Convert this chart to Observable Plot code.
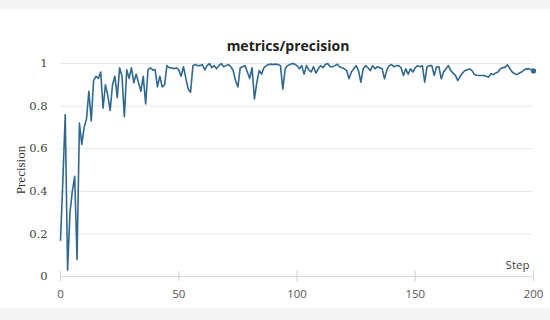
<!DOCTYPE html>
<html>
<head>
<meta charset="utf-8">
<script src="https://cdn.jsdelivr.net/npm/d3@7"></script>
<script src="https://cdn.jsdelivr.net/npm/@observablehq/plot@0.6"></script>
<style>
  html, body { margin: 0; padding: 0; }
  body { width: 550px; height: 320px; background: #f4f4f4; position: relative; overflow: hidden; }
  #panel { position: absolute; left: 0; top: 9px; width: 550px; height: 299px; background: #fff; }
  #title { position: absolute; left: 0; top: 37px; width: 576px; text-align: center;
           font: bold 14px "Open Sans", "Noto Sans", sans-serif; color: #222; line-height: 18px; z-index: 2; }
  #chart { position: absolute; left: 0; top: 0; z-index: 1; }
</style>
</head>
<body>
<div id="panel"></div>
<div id="title">metrics/precision</div>
<div id="chart"></div>
<script>
const steps = d3.range(0, 201);
const precision = [
  0.17, 0.45, 0.76, 0.03, 0.30, 0.40, 0.47, 0.08, 0.72, 0.62,
  0.70, 0.74, 0.87, 0.73, 0.92, 0.94, 0.93, 0.96, 0.79, 0.90,
  0.85, 0.78, 0.90, 0.94, 0.84, 0.98, 0.94, 0.75, 0.97, 0.93,
  0.98, 0.91, 0.95, 0.91, 0.87, 0.94, 0.81, 0.97, 0.98, 0.97,
  0.97, 0.89, 0.94, 0.89, 0.90, 0.99, 0.98, 0.98, 0.975, 0.98,
  0.97, 0.94, 0.985, 0.93, 0.88, 0.865, 0.99, 0.995, 0.99, 0.99,
  0.995, 0.97, 0.99, 1.0, 0.98, 0.99, 0.975, 0.99, 1.0, 0.985,
  0.99, 0.995, 0.985, 0.967, 0.92, 0.89, 0.98, 0.985, 0.99, 0.96,
  0.93, 0.98, 0.834, 0.91, 0.967, 0.95, 0.98, 0.99, 0.995, 0.997,
  0.995, 0.997, 0.995, 0.99, 0.88, 0.975, 0.99, 0.995, 1.0, 0.997,
  0.99, 0.975, 0.99, 0.95, 0.99, 0.97, 0.96, 0.985, 0.955, 0.975,
  0.99, 0.98, 0.995, 1.0, 0.985, 0.985, 0.99, 0.997, 0.985, 0.98,
  0.975, 0.967, 0.928, 0.96, 0.975, 0.99, 0.967, 0.912, 0.975, 0.99,
  0.98, 0.967, 0.99, 0.975, 0.985, 0.98, 0.975, 0.928, 0.97, 0.99,
  0.995, 0.985, 0.99, 0.99, 0.98, 0.944, 0.975, 0.95, 0.975, 0.96,
  0.98, 0.99, 0.985, 0.99, 0.912, 0.985, 0.99, 0.99, 0.944, 0.985,
  0.985, 0.928, 0.96, 0.975, 0.99, 0.967, 0.955, 0.944, 0.92, 0.94,
  0.955, 0.967, 0.97, 0.975, 0.967, 0.948, 0.945, 0.944, 0.944, 0.944,
  0.94, 0.936, 0.952, 0.948, 0.955, 0.96, 0.975, 0.98, 0.983, 0.994,
  0.975, 0.96, 0.952, 0.948, 0.955, 0.96, 0.97, 0.975, 0.975, 0.972,
  0.965
];
const xTicks = [0, 50, 100, 150, 200];
const yTicks = [0, 0.2, 0.4, 0.6, 0.8, 1];
const yTickLabels = ["0", "0.2", "0.4", "0.6", "0.8", "1"];
const xLabel = "Step";
const yLabel = "Precision";

const data = steps.map((s, i) => ({step: s, value: precision[i]}));
const last = data[data.length - 1];

const chart = Plot.plot({
  width: 550,
  height: 320,
  marginTop: 63,
  marginBottom: 44,
  marginLeft: 60,
  marginRight: 17,
  style: {background: "transparent", overflow: "visible"},
  x: {domain: [0, 200]},
  y: {domain: [0, 1]},
  marks: [
    Plot.gridY(yTicks.filter(d => d > 0), {stroke: "#e6e6e6", strokeOpacity: 1, strokeWidth: 1}),
    Plot.ruleY([0], {stroke: "#d9d9d9", strokeWidth: 1.2}),
    Plot.axisX(xTicks, {tickSize: 10, dy: -5, tickFormat: () => "", stroke: "#d0d0d0", label: null}),
    Plot.axisX(xTicks, {tickSize: 0, tickPadding: 13, fontSize: 11.5, fill: "#555",
      fontFamily: "'Open Sans', 'Noto Sans', sans-serif", label: null}),
    Plot.axisY(yTicks, {tickSize: 0, tickPadding: 13, fontSize: 11.5, fill: "#444",
      fontFamily: "'DejaVu Serif', serif", tickFormat: (d) => yTickLabels[yTicks.indexOf(d)],
      label: null}),
    Plot.text([yLabel], {frameAnchor: "left", textAnchor: "middle", dx: -40, rotate: -90, fontSize: 13,
      fontFamily: "'Liberation Serif', 'Times New Roman', serif", fill: "#333"}),
    Plot.text([xLabel], {frameAnchor: "bottom-right", dx: -4, dy: -8, fontSize: 11.5,
      fontFamily: "'Open Sans', 'Noto Sans', sans-serif", fill: "#444"}),
    Plot.line(data, {x: "step", y: "value", stroke: "#30688f", strokeWidth: 1.6, strokeLinejoin: "round"}),
    Plot.dot([last], {x: "step", y: "value", r: 2.6, fill: "#30688f", stroke: "none"})
  ]
});
document.getElementById("chart").appendChild(chart);
</script>
</body>
</html>
